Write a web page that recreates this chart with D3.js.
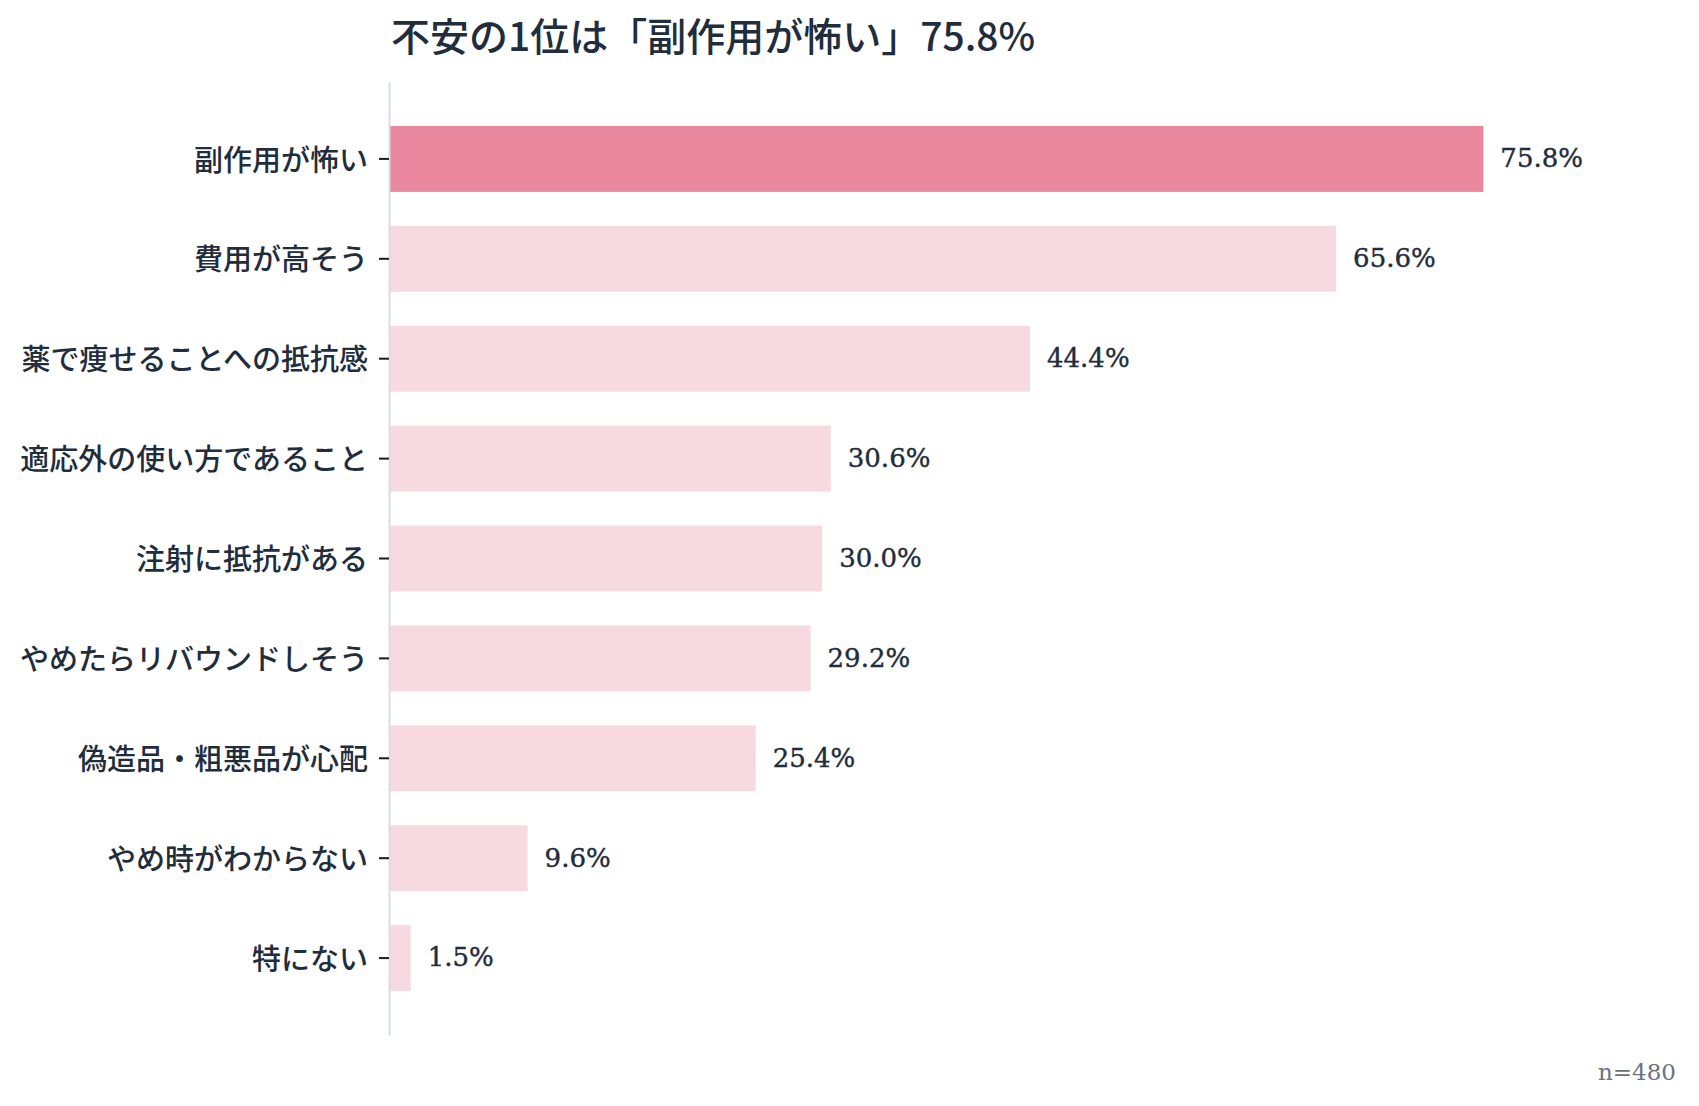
<!DOCTYPE html>
<html>
<head>
<meta charset="utf-8">
<script src="https://cdn.jsdelivr.net/npm/d3@7"></script>
<style>
  html, body { margin: 0; padding: 0; background: #fff; }
  svg { display: block; }
</style>
</head>
<body>
<svg id="chart" width="1699" height="1106"></svg>
<script>
  // data
  var categories = [
    "副作用が怖い",
    "費用が高そう",
    "薬で痩せることへの抵抗感",
    "適応外の使い方であること",
    "注射に抵抗がある",
    "やめたらリバウンドしそう",
    "偽造品・粗悪品が心配",
    "やめ時がわからない",
    "特にない"
  ];
  var values = [75.8, 65.6, 44.4, 30.6, 30.0, 29.2, 25.4, 9.6, 1.5];
  var titleText = "不安の1位は「副作用が怖い」75.8%";
  var noteText = "n=480";

  var sans = "'Noto Sans CJK JP', 'Noto Sans', sans-serif";
  var serif = "'DejaVu Serif', serif";
  var ink = "#1f2d3d";

  var chart = d3.select("#chart");

  var x = d3.scaleLinear().domain([0, 80]).range([389, 1544]);
  var y = d3.scaleBand().domain(categories).range([82, 1035])
    .paddingInner(0.34).paddingOuter(0.44);

  // bars
  chart.selectAll(".bar")
    .data(values)
    .enter()
    .append("rect")
    .attr("class", "bar")
    .attr("x", x(0))
    .attr("y", function(d, i) { return y(categories[i]); })
    .attr("width", function(d) { return x(d) - x(0); })
    .attr("height", y.bandwidth())
    .attr("fill", function(d, i) { return i === 0 ? "#e8879e" : "#f6d9e1"; });

  // value labels
  chart.selectAll(".val")
    .data(values)
    .enter()
    .append("text")
    .attr("class", "val")
    .attr("x", function(d) { return x(d) + 17; })
    .attr("y", function(d, i) { return y(categories[i]) + y.bandwidth() / 2; })
    .attr("dy", "0.32em")
    .attr("font-family", serif)
    .attr("font-size", 26)
    .attr("fill", ink)
    .attr("stroke", ink)
    .attr("stroke-width", 0.4)
    .text(function(d) { return d.toFixed(1) + "%"; });

  // y axis
  var axis = chart.append("g")
    .attr("transform", "translate(" + x(0) + ",0)")
    .call(d3.axisLeft(y).tickSize(10).tickSizeOuter(0).tickPadding(11));
  axis.select(".domain").attr("stroke", "#d6dde8").attr("stroke-width", 2);
  axis.selectAll(".tick line").attr("stroke", "#1a1a1a").attr("stroke-width", 2);
  axis.selectAll(".tick text")
    .attr("font-family", sans)
    .attr("font-size", 29)
    .attr("font-weight", 500)
    .attr("fill", ink)
    .attr("dy", "0.4em");

  // title
  chart.append("text")
    .attr("x", 391)
    .attr("y", 51)
    .attr("font-family", sans)
    .attr("font-size", 39)
    .attr("font-weight", 500)
    .attr("fill", ink)
    .text(titleText);

  // sample size
  chart.append("text")
    .attr("x", 1676)
    .attr("y", 1080)
    .attr("text-anchor", "end")
    .attr("font-family", serif)
    .attr("font-size", 23)
    .attr("fill", "#6b7280")
    .text(noteText);
</script>
</body>
</html>
